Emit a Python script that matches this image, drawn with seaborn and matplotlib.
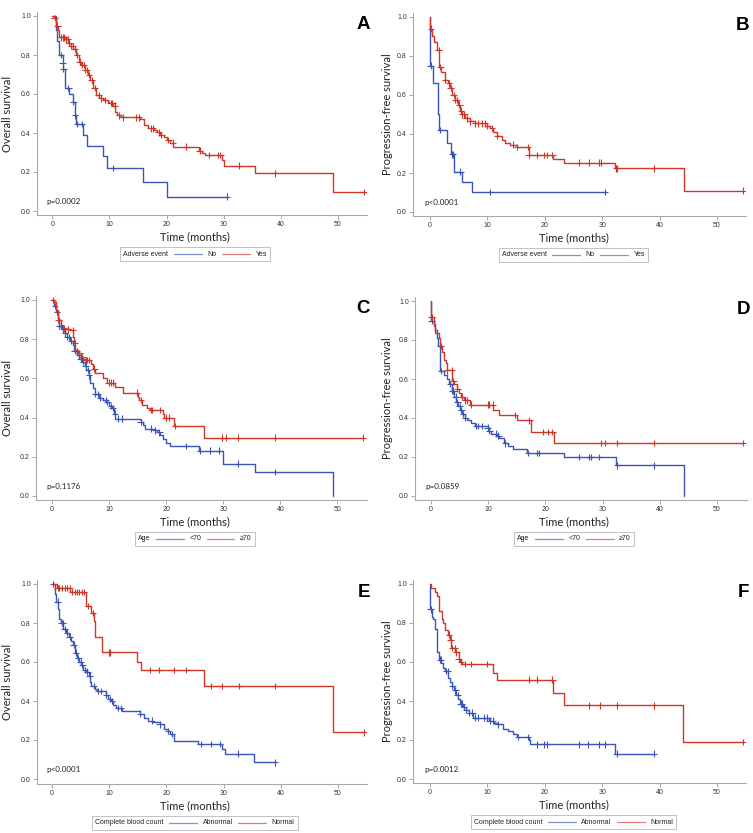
import numpy as np
import pandas as pd
import matplotlib
matplotlib.use("Agg")
import matplotlib.pyplot as plt
import seaborn as sns
from matplotlib.offsetbox import TextArea, DrawingArea, HPacker, AnchoredOffsetbox
from matplotlib.lines import Line2D

sns.set_theme(style="white")
plt.rcParams['font.family'] = ['Liberation Sans', 'DejaVu Sans']

# ---------------- data ----------------
XTICKS = [0, 10, 20, 30, 40, 50]
YTICKS = [0.0, 0.2, 0.4, 0.6, 0.8, 1.0]

# Panel A : overall survival by adverse event
A_no_t = [0, 0.7, 0.9, 1.1, 1.8, 1.9, 2.2, 3.0, 3.6, 3.9, 4.1, 5.4, 6.0, 8.9, 9.5, 15.9, 20.0]
A_no_s = [1.0, 0.93, 0.87, 0.80, 0.76, 0.73, 0.63, 0.60, 0.56, 0.49, 0.445, 0.39, 0.335, 0.28, 0.22, 0.148, 0.074]
A_no_c = [1.5, 1.8, 1.95, 2.8, 3.7, 4.0, 4.3, 5.2, 10.6, 30.5]
A_yes_t = [0, 0.3, 0.6, 1.05, 1.2, 2.2, 2.8, 3.2, 3.7, 4.1, 4.6, 5.1, 5.7, 6.3, 6.6, 7.2, 7.6, 8.2, 8.9, 9.8,
           10.0, 10.6, 11.0, 11.3, 12.1, 15.4, 16.0, 16.8, 17.8, 18.3, 18.9, 19.5, 20.0, 20.6, 21.2,
           25.6, 26.2, 26.8, 29.7, 30.0, 35.5, 49.2]
A_yes_s = [1.0, 0.99, 0.95, 0.93, 0.89, 0.88, 0.863, 0.846, 0.83, 0.80, 0.766, 0.749, 0.723, 0.697, 0.67,
           0.63, 0.595, 0.578, 0.57, 0.56, 0.553, 0.54, 0.51, 0.49, 0.48, 0.47, 0.44, 0.424, 0.415, 0.403,
           0.39, 0.378, 0.364, 0.35, 0.33, 0.31, 0.30, 0.287, 0.262, 0.233, 0.193, 0.097]
A_yes_c = [0.4, 0.9, 1.5, 1.8, 2.1, 2.4, 2.7, 3.0, 3.3, 3.6, 3.9, 4.3, 4.8, 5.2, 5.5, 5.8, 6.1, 6.4, 6.9, 7.4,
           8.1, 8.6, 9.3, 10.2, 10.5, 10.9, 11.7, 12.3, 14.7, 15.2, 17.2, 17.6, 18.6, 19.1, 20.3, 21.1,
           23.4, 25.8, 27.5, 29.0, 29.4, 32.6, 39.0, 54.6]

# Panel B : progression-free survival by adverse event
B_no_t = [0, 0.05, 0.6, 1.4, 1.45, 1.5, 2.9, 3.6, 4.2, 5.6, 7.3]
B_no_s = [1.0, 0.75, 0.66, 0.57, 0.50, 0.42, 0.355, 0.295, 0.207, 0.155, 0.103]
B_no_c = [0.1, 1.7, 3.8, 4.0, 5.3, 10.4, 30.5]
B_yes_t = [0, 0.05, 0.4, 0.7, 1.2, 1.6, 2.0, 2.6, 3.2, 3.5, 3.8, 4.4, 4.8, 5.2, 5.6, 6.1, 7.0, 7.8, 9.9, 10.4,
           11.0, 11.7, 12.5, 13.1, 13.9, 15.1, 17.2, 21.5, 23.4, 32.2, 44.2]
B_yes_s = [1.0, 0.94, 0.90, 0.87, 0.83, 0.744, 0.72, 0.676, 0.66, 0.635, 0.60, 0.575, 0.55, 0.52, 0.50, 0.48,
           0.465, 0.455, 0.44, 0.43, 0.41, 0.39, 0.37, 0.355, 0.345, 0.334, 0.293, 0.272, 0.253, 0.224, 0.11]
B_yes_c = [0.2, 1.5, 1.8, 2.7, 3.3, 3.6, 4.1, 4.4, 4.7, 5.1, 5.4, 5.6, 6.0, 6.4, 7.0, 7.8, 8.4, 9.0, 9.5, 10.0,
           10.8, 11.7, 14.5, 15.2, 17.0, 17.2, 18.6, 19.8, 20.4, 21.3, 25.9, 27.7, 29.4, 29.8, 32.4, 32.6,
           39.0, 54.5]

# Panel C : overall survival by age
C_lt_t = [0, 0.4, 0.7, 1.0, 1.3, 1.75, 2.2, 2.6, 3.2, 3.7, 3.9, 4.4, 4.8, 5.25, 5.7, 6.0, 6.4, 6.7, 7.2, 7.6,
          8.2, 9.0, 9.5, 9.9, 10.5, 10.8, 11.1, 15.5, 15.9, 16.2, 17.8, 18.4, 19.0, 19.5, 20.0, 20.7, 25.7,
          30.0, 35.5, 49.2]
C_lt_s = [1.0, 0.97, 0.94, 0.91, 0.867, 0.85, 0.83, 0.81, 0.79, 0.77, 0.74, 0.72, 0.70, 0.685, 0.665, 0.642,
          0.615, 0.574, 0.55, 0.52, 0.50, 0.49, 0.48, 0.46, 0.45, 0.42, 0.395, 0.378, 0.36, 0.344, 0.335,
          0.324, 0.31, 0.29, 0.271, 0.255, 0.232, 0.165, 0.123, 0.0]
C_lt_c = [0.5, 0.9, 1.3, 1.6, 1.9, 2.3, 2.7, 3.0, 3.4, 3.95, 4.3, 4.7, 5.0, 5.5, 5.9, 6.3, 6.5, 7.6, 8.0, 8.4,
          9.4, 9.7, 10.3, 10.6, 11.0, 11.6, 12.2, 15.5, 17.3, 18.1, 18.8, 23.5, 25.9, 27.7, 29.3, 32.6, 39.0]
C_ge_t = [0, 0.3, 0.7, 1.05, 1.5, 1.9, 2.3, 3.2, 3.7, 3.9, 4.1, 4.5, 5.0, 5.5, 5.8, 6.8, 7.2, 7.6, 9.0, 9.6,
          11.0, 12.4, 15.0, 15.3, 15.8, 16.6, 17.1, 19.4, 19.7, 21.4, 26.7]
C_ge_s = [1.0, 0.99, 0.95, 0.90, 0.87, 0.855, 0.85, 0.845, 0.813, 0.78, 0.744, 0.73, 0.71, 0.70, 0.693, 0.675,
          0.65, 0.625, 0.60, 0.578, 0.554, 0.528, 0.503, 0.49, 0.465, 0.45, 0.438, 0.42, 0.40, 0.358, 0.298]
C_ge_c = [0.2, 1.1, 2.1, 2.8, 3.6, 4.0, 4.8, 5.3, 5.9, 6.2, 6.5, 7.4, 9.9, 10.3, 10.6, 14.8, 15.6, 17.3, 17.6,
          18.9, 19.9, 20.5, 21.5, 29.7, 30.4, 32.6, 39.0, 54.5]

# Panel D : progression-free survival by age
D_lt_t = [0, 0.05, 0.5, 0.75, 1.05, 1.3, 1.5, 1.6, 2.2, 2.8, 3.2, 3.7, 4.1, 4.4, 4.8, 5.1, 5.5, 5.9, 6.3, 7.0,
          7.7, 9.9, 10.2, 10.5, 11.5, 11.9, 12.8, 13.5, 14.4, 16.7, 17.0, 23.3, 32.3, 44.2]
D_lt_s = [1.0, 0.90, 0.88, 0.85, 0.81, 0.77, 0.70, 0.64, 0.62, 0.60, 0.575, 0.54, 0.51, 0.48, 0.46, 0.44, 0.42,
          0.40, 0.388, 0.375, 0.36, 0.35, 0.335, 0.32, 0.31, 0.295, 0.27, 0.255, 0.243, 0.225, 0.22, 0.20,
          0.157, 0.0]
D_lt_c = [0.1, 1.8, 3.4, 3.7, 3.9, 4.3, 4.6, 5.0, 5.3, 5.6, 6.0, 7.9, 8.3, 9.0, 9.9, 10.2, 11.3, 11.8, 13.0,
          17.0, 18.6, 18.8, 25.8, 27.7, 28.0, 29.4, 32.6, 39.0]
D_ge_t = [0, 0.05, 0.5, 0.65, 1.35, 1.6, 2.0, 2.3, 2.6, 2.8, 3.7, 4.1, 4.5, 4.9, 5.3, 5.7, 6.9, 10.9, 11.9,
          15.1, 17.4, 21.5]
D_ge_s = [1.0, 0.918, 0.87, 0.835, 0.81, 0.77, 0.74, 0.70, 0.68, 0.644, 0.588, 0.575, 0.55, 0.53, 0.51, 0.49,
          0.468, 0.443, 0.415, 0.388, 0.328, 0.273]
D_ge_c = [0.1, 1.7, 2.8, 3.6, 3.9, 4.6, 5.5, 6.0, 6.3, 7.0, 9.9, 10.2, 10.8, 14.6, 17.2, 19.5, 20.4, 21.2,
          29.7, 30.4, 32.6, 39.0, 54.5]

# Panel E : overall survival by complete blood count
E_ab_t = [0, 0.5, 0.75, 1.05, 1.2, 1.6, 2.0, 2.5, 2.9, 3.4, 3.7, 4.0, 4.4, 4.7, 5.1, 5.5, 6.0, 6.5, 6.7, 6.9,
          7.5, 7.8, 9.4, 9.8, 10.4, 10.7, 11.2, 12.3, 15.4, 16.1, 16.8, 17.6, 18.8, 19.6, 20.2, 20.7, 21.3,
          25.6, 29.7, 30.3, 35.4]
E_ab_s = [1.0, 0.95, 0.909, 0.87, 0.82, 0.80, 0.77, 0.75, 0.73, 0.71, 0.689, 0.648, 0.62, 0.60, 0.585, 0.56,
          0.55, 0.53, 0.50, 0.476, 0.46, 0.452, 0.433, 0.41, 0.40, 0.38, 0.365, 0.348, 0.335, 0.315, 0.299,
          0.29, 0.28, 0.255, 0.245, 0.23, 0.195, 0.179, 0.155, 0.13, 0.085]
E_ab_c = [0.2, 1.0, 1.7, 1.9, 2.2, 2.6, 3.1, 3.8, 4.2, 4.6, 5.0, 5.3, 5.8, 6.2, 6.6, 7.3, 8.0, 8.5, 9.5, 10.1,
          10.5, 11.5, 12.0, 15.45, 17.5, 18.8, 20.3, 21.0, 26.0, 27.8, 29.3, 32.6, 39.0]
E_no_t = [0, 0.9, 3.2, 5.9, 6.9, 7.4, 7.6, 8.8, 14.9, 15.5, 26.6, 49.1]
E_no_s = [1.0, 0.98, 0.96, 0.886, 0.852, 0.809, 0.727, 0.65, 0.60, 0.558, 0.476, 0.239]
E_no_c = [1.0, 1.3, 1.8, 2.2, 2.6, 3.1, 3.5, 4.0, 4.4, 4.8, 5.2, 5.6, 6.3, 7.2, 10.0, 10.1, 17.2, 18.7, 21.4,
          23.5, 27.8, 29.8, 32.7, 39.0, 54.6]

# Panel F : progression-free survival by complete blood count
F_ab_t = [0, 0.05, 0.4, 0.6, 0.9, 1.2, 1.3, 1.5, 2.0, 2.3, 2.7, 3.2, 3.5, 3.8, 4.2, 4.5, 4.9, 5.3, 5.8, 6.3,
          6.8, 7.5, 10.2, 11.1, 11.7, 12.8, 13.6, 14.4, 15.1, 17.3, 17.5, 32.3]
F_ab_s = [1.0, 0.87, 0.83, 0.82, 0.77, 0.72, 0.65, 0.612, 0.595, 0.57, 0.554, 0.52, 0.50, 0.479, 0.455, 0.43,
          0.41, 0.386, 0.37, 0.355, 0.34, 0.315, 0.30, 0.289, 0.28, 0.258, 0.245, 0.23, 0.215, 0.20, 0.178, 0.13]
F_ab_c = [0.1, 1.7, 1.9, 2.8, 3.1, 3.9, 4.4, 4.8, 5.35, 5.5, 5.9, 6.3, 6.8, 7.4, 7.8, 8.3, 9.4, 10.0, 10.4,
          11.0, 11.8, 15.3, 17.0, 18.6, 19.8, 20.4, 25.9, 27.6, 29.4, 30.5, 32.5, 39.0]
F_no_t = [0, 0.2, 0.9, 1.3, 1.5, 1.6, 2.1, 2.3, 2.6, 3.2, 3.5, 3.7, 4.4, 5.0, 5.3, 5.5, 11.0, 11.7, 21.4, 23.3, 44.1]
F_no_s = [1.0, 0.98, 0.96, 0.937, 0.90, 0.86, 0.82, 0.80, 0.762, 0.74, 0.715, 0.672, 0.65, 0.617, 0.60, 0.59,
          0.543, 0.509, 0.443, 0.378, 0.19]
F_no_c = [3.3, 3.6, 3.9, 4.3, 4.6, 5.0, 5.4, 6.1, 7.1, 10.0, 17.2, 18.7, 21.3, 27.7, 29.6, 32.6, 39.0, 54.6]

P_VALUES = ['p=0.0002', 'p<0.0001', 'p=0.1176', 'p=0.0859', 'p<0.0001', 'p=0.0012']
LETTERS = ['A', 'B', 'C', 'D', 'E', 'F']
YLABELS = ['Overall survival', 'Progression-free survival'] * 3
LEG_TITLES = ['Adverse event', 'Adverse event', 'Age', 'Age', 'Complete blood count', 'Complete blood count']
GROUPS = [['No', 'Yes'], ['No', 'Yes'], ['<70', '\u226570'], ['<70', '\u226570'],
          ['Abnormal', 'Normal'], ['Abnormal', 'Normal']]
CURVES = [[(A_no_t, A_no_s, A_no_c), (A_yes_t, A_yes_s, A_yes_c)],
          [(B_no_t, B_no_s, B_no_c), (B_yes_t, B_yes_s, B_yes_c)],
          [(C_lt_t, C_lt_s, C_lt_c), (C_ge_t, C_ge_s, C_ge_c)],
          [(D_lt_t, D_lt_s, D_lt_c), (D_ge_t, D_ge_s, D_ge_c)],
          [(E_ab_t, E_ab_s, E_ab_c), (E_no_t, E_no_s, E_no_c)],
          [(F_ab_t, F_ab_s, F_ab_c), (F_no_t, F_no_s, F_no_c)]]

# ---------------- layout (pixels) ----------------
W, H = 753, 833
# left, right, top, bottom of axes; pixel of x=0, x=50; pixel of y=1, y=0; ylabel x centre
LAYOUT = [
    (37, 367, 12, 215, 52.3, 338.0, 16, 211, 8.0),
    (413, 746, 13, 216, 430.0, 717.0, 17, 212, 388.0),
    (36, 367, 296, 500, 52.0, 337.5, 300, 496, 8.0),
    (415, 747, 297, 500, 431.0, 717.0, 301, 496, 388.0),
    (37, 367, 580, 784, 52.0, 338.0, 584, 779, 8.0),
    (413, 746, 580, 783, 430.0, 717.0, 584, 779, 388.0),
]

BLUE = '#3A55B8'
RED = '#CF3626'
SPINE = '#A9A9A9'
LABEL_FONT = ['Lato', 'DejaVu Sans']

fig = plt.figure(figsize=(W / 100, H / 100), dpi=100)


def step_at(t, s, c):
    idx = np.searchsorted(np.asarray(t), np.asarray(c), side='right') - 1
    return np.asarray(s)[idx]


for i in range(6):
    L, R, T, B, x0, x50, y1, y0, ylx = LAYOUT[i]
    ax = fig.add_axes([L / W, 1 - B / H, (R - L) / W, (B - T) / H])
    ppm = (x50 - x0) / 50.0
    ppu = (y0 - y1)
    xlim = ((L - x0) / ppm, (R - x0) / ppm)
    ylim = ((y0 - B) / ppu, (y0 - T) / ppu)

    g0, g1 = GROUPS[i]
    pal = {g0: BLUE, g1: RED}
    rows, crow = [], []
    for g, (t, s, c) in zip(GROUPS[i], CURVES[i]):
        tt, ss = list(t), list(s)
        if max(c) > tt[-1]:
            tt.append(max(c))
            ss.append(ss[-1])
        rows.append(pd.DataFrame({'time': tt, 'surv': ss, 'group': g}))
        crow.append(pd.DataFrame({'time': c, 'surv': step_at(t, s, c), 'group': g}))
    df = pd.concat(rows, ignore_index=True)
    dfc = pd.concat(crow, ignore_index=True)

    sns.lineplot(data=df, x='time', y='surv', hue='group', hue_order=[g0, g1], palette=pal,
                 estimator=None, sort=False, drawstyle='steps-post', linewidth=1.0,
                 legend=False, ax=ax)
    sns.scatterplot(data=dfc, x='time', y='surv', hue='group', hue_order=[g0, g1], palette=pal,
                    marker='+', s=22, linewidth=0.8, legend=False, ax=ax)

    ax.set_xlim(*xlim)
    ax.set_ylim(*ylim)
    ax.set_xticks(XTICKS)
    ax.set_xticklabels([str(v) for v in XTICKS])
    ax.set_yticks(YTICKS)
    ax.set_yticklabels([f'{v:.1f}' for v in YTICKS])
    for sp in ['top', 'right']:
        ax.spines[sp].set_visible(False)
    for sp in ['left', 'bottom']:
        ax.spines[sp].set_color(SPINE)
        ax.spines[sp].set_linewidth(0.8)
    ax.tick_params(axis='both', direction='out', length=3, width=0.7, color=SPINE,
                   labelsize=5, pad=1.5, labelcolor='#333333', left=True, bottom=True)
    ax.grid(False)

    wpx, hpx = R - L, B - T
    ax.set_xlabel('Time (months)', fontsize=8, family=LABEL_FONT, color='#222222', va='center')
    ax.xaxis.set_label_coords((25 - xlim[0]) / (xlim[1] - xlim[0]), -22 / hpx)
    ax.set_ylabel(YLABELS[i], fontsize=8, family=LABEL_FONT, color='#222222', va='center')
    ax.yaxis.set_label_coords((ylx - L) / wpx, 0.5)

    ax.text(-1.0, 0.05, P_VALUES[i], fontsize=5.8, family=LABEL_FONT,
            color='#222222', ha='left', va='center')
    ax.text(1 + 3 / wpx, 1 - 4 / hpx, LETTERS[i], transform=ax.transAxes, ha='right', va='top',
            fontsize=13.5, fontweight='bold', color='black')

    # legend strip: "Title ---- g0 ---- g1"
    tp = dict(fontsize=5.0, color='#222222')
    items = [TextArea(LEG_TITLES[i], textprops=tp)]
    for g, col in ((g0, BLUE), (g1, RED)):
        da = DrawingArea(20, 3, 0, 0)
        da.add_artist(Line2D([0, 20], [1.5, 1.5], color=col, lw=0.9, alpha=0.65))
        items.append(da)
        items.append(TextArea(g, textprops=tp))
    pack = HPacker(children=items, align='center', pad=0, sep=4)
    box = AnchoredOffsetbox(loc='center', child=pack, pad=0.45, borderpad=0, frameon=True,
                            prop=dict(size=5.0),
                            bbox_to_anchor=((25 - xlim[0]) / (xlim[1] - xlim[0]), -39 / hpx),
                            bbox_transform=ax.transAxes)
    box.patch.set_edgecolor('#B8B8B8')
    box.patch.set_linewidth(0.6)
    ax.add_artist(box)

fig.savefig('out.png', dpi=100)
